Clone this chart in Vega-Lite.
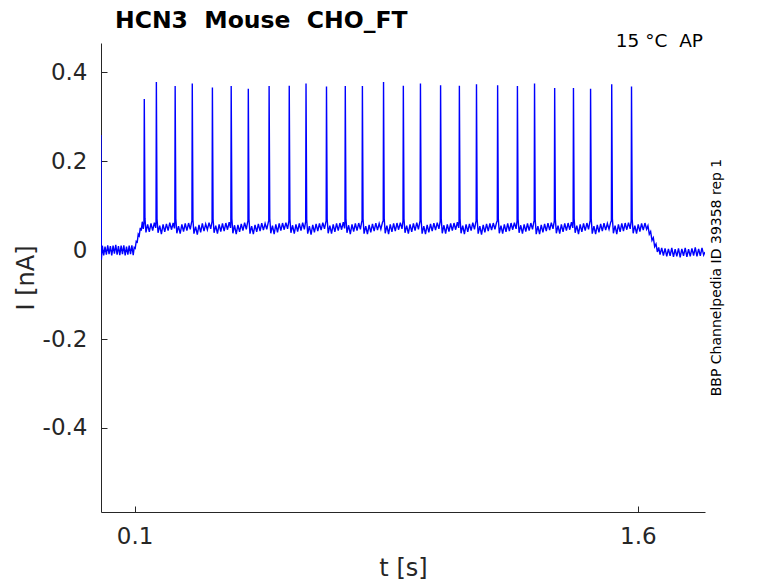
{
  "$schema": "https://vega.github.io/schema/vega-lite/v6.json",
  "width": 604,
  "height": 469,
  "autosize": {"type": "none"},
  "padding": {"left": 101, "top": 43, "right": 73, "bottom": 71},
  "background": "white",
  "config": {
    "view": {"stroke": null},
    "font": "DejaVu Sans",
    "axis": {
      "domainColor": "#262626", "tickColor": "#262626", "labelColor": "#262626", "titleColor": "#262626",
      "labelFont": "DejaVu Sans", "titleFont": "DejaVu Sans", "grid": false,
      "labelFontSize": 23, "titleFontSize": 24, "titleFontWeight": "normal",
      "tickSize": -6, "domainWidth": 1, "tickWidth": 1
    }
  },
  "title": {"text": "HCN3\u00a0\u00a0Mouse\u00a0\u00a0CHO_FT", "anchor": "start", "frame": "group", "dx": 14, "dy": 23, "fontSize": 23.5, "fontWeight": "bold", "color": "black", "font": "DejaVu Sans", "baseline": "alphabetic", "offset": 4},
  "layer": [
    {
      "data": {"values": [
        {"t":0,"i":0.259},{"t":0.001,"i":-0.022},{"t":0.004,"i":0.01},{"t":0.008,"i":-0.012},{"t":0.012,"i":0.008},{"t":0.016,"i":-0.01},{"t":0.02,"i":0.011},{"t":0.024,"i":-0.009},{"t":0.028,"i":0.009},{"t":0.032,"i":-0.012},{"t":0.036,"i":0.01},{"t":0.04,"i":-0.008},{"t":0.044,"i":0.012},{"t":0.048,"i":-0.01},{"t":0.052,"i":0.009},{"t":0.056,"i":-0.011},{"t":0.06,"i":0.01},{"t":0.064,"i":-0.009},{"t":0.068,"i":0.011},{"t":0.072,"i":-0.012},{"t":0.076,"i":0.008},{"t":0.08,"i":-0.01},{"t":0.084,"i":0.01},{"t":0.088,"i":-0.009},{"t":0.092,"i":0.011},{"t":0.096,"i":-0.011},{"t":0.099,"i":0.006},
        {"t":0.102,"i":0.004},{"t":0.105,"i":0.02},{"t":0.108,"i":0.018},{"t":0.111,"i":0.036},{"t":0.114,"i":0.032},{"t":0.117,"i":0.05},{"t":0.12,"i":0.044},{"t":0.123,"i":0.064},{"t":0.126,"i":0.048},{"t":0.128,"i":0.062},
        {"t":0.129,"i":0.34},{"t":0.131,"i":0.072},{"t":0.134,"i":0.04},{"t":0.139,"i":0.058},{"t":0.144,"i":0.041},{"t":0.149,"i":0.06},{"t":0.154,"i":0.044},{"t":0.159,"i":0.062},{"t":0.163,"i":0.05},{"t":0.164,"i":0.064},
        {"t":0.165,"i":0.378},{"t":0.167,"i":0.07},{"t":0.17,"i":0.039},{"t":0.175,"i":0.055},{"t":0.18,"i":0.036},{"t":0.185,"i":0.058},{"t":0.19,"i":0.041},{"t":0.195,"i":0.059},{"t":0.2,"i":0.044},{"t":0.205,"i":0.062},{"t":0.21,"i":0.046},{"t":0.215,"i":0.061},{"t":0.219,"i":0.049},{"t":0.22,"i":0.065},
        {"t":0.221,"i":0.369},{"t":0.223,"i":0.071},{"t":0.226,"i":0.038},{"t":0.231,"i":0.054},{"t":0.236,"i":0.037},{"t":0.241,"i":0.058},{"t":0.246,"i":0.042},{"t":0.251,"i":0.06},{"t":0.256,"i":0.044},{"t":0.261,"i":0.061},{"t":0.266,"i":0.047},{"t":0.27,"i":0.063},{"t":0.271,"i":0.066},
        {"t":0.272,"i":0.375},{"t":0.274,"i":0.069},{"t":0.277,"i":0.037},{"t":0.282,"i":0.053},{"t":0.287,"i":0.035},{"t":0.292,"i":0.057},{"t":0.297,"i":0.04},{"t":0.302,"i":0.06},{"t":0.307,"i":0.043},{"t":0.312,"i":0.059},{"t":0.317,"i":0.046},{"t":0.322,"i":0.062},{"t":0.327,"i":0.048},{"t":0.331,"i":0.065},
        {"t":0.332,"i":0.366},{"t":0.334,"i":0.07},{"t":0.337,"i":0.039},{"t":0.342,"i":0.055},{"t":0.347,"i":0.037},{"t":0.352,"i":0.058},{"t":0.357,"i":0.042},{"t":0.362,"i":0.06},{"t":0.367,"i":0.043},{"t":0.372,"i":0.061},{"t":0.377,"i":0.046},{"t":0.382,"i":0.063},{"t":0.386,"i":0.05},{"t":0.387,"i":0.066},
        {"t":0.388,"i":0.369},{"t":0.39,"i":0.071},{"t":0.393,"i":0.038},{"t":0.398,"i":0.056},{"t":0.403,"i":0.036},{"t":0.408,"i":0.057},{"t":0.413,"i":0.041},{"t":0.418,"i":0.059},{"t":0.423,"i":0.044},{"t":0.428,"i":0.062},{"t":0.433,"i":0.047},{"t":0.437,"i":0.063},{"t":0.438,"i":0.066},
        {"t":0.439,"i":0.363},{"t":0.441,"i":0.07},{"t":0.444,"i":0.037},{"t":0.449,"i":0.054},{"t":0.454,"i":0.036},{"t":0.459,"i":0.057},{"t":0.464,"i":0.041},{"t":0.469,"i":0.059},{"t":0.474,"i":0.043},{"t":0.479,"i":0.061},{"t":0.484,"i":0.045},{"t":0.489,"i":0.06},{"t":0.494,"i":0.047},{"t":0.499,"i":0.064},{"t":0.5,"i":0.066},
        {"t":0.501,"i":0.369},{"t":0.503,"i":0.071},{"t":0.506,"i":0.038},{"t":0.511,"i":0.055},{"t":0.516,"i":0.036},{"t":0.521,"i":0.058},{"t":0.526,"i":0.04},{"t":0.531,"i":0.06},{"t":0.536,"i":0.044},{"t":0.541,"i":0.061},{"t":0.546,"i":0.046},{"t":0.551,"i":0.062},{"t":0.556,"i":0.048},{"t":0.56,"i":0.066},
        {"t":0.561,"i":0.37},{"t":0.563,"i":0.07},{"t":0.566,"i":0.039},{"t":0.571,"i":0.056},{"t":0.576,"i":0.037},{"t":0.581,"i":0.058},{"t":0.586,"i":0.042},{"t":0.591,"i":0.06},{"t":0.596,"i":0.044},{"t":0.601,"i":0.062},{"t":0.606,"i":0.047},{"t":0.61,"i":0.065},
        {"t":0.611,"i":0.375},{"t":0.613,"i":0.069},{"t":0.616,"i":0.037},{"t":0.621,"i":0.054},{"t":0.626,"i":0.035},{"t":0.631,"i":0.057},{"t":0.636,"i":0.04},{"t":0.641,"i":0.059},{"t":0.646,"i":0.043},{"t":0.651,"i":0.06},{"t":0.656,"i":0.045},{"t":0.661,"i":0.062},{"t":0.666,"i":0.048},{"t":0.67,"i":0.063},{"t":0.671,"i":0.066},
        {"t":0.672,"i":0.368},{"t":0.674,"i":0.07},{"t":0.677,"i":0.038},{"t":0.682,"i":0.055},{"t":0.687,"i":0.037},{"t":0.692,"i":0.058},{"t":0.697,"i":0.041},{"t":0.702,"i":0.06},{"t":0.707,"i":0.044},{"t":0.712,"i":0.061},{"t":0.717,"i":0.046},{"t":0.722,"i":0.063},{"t":0.726,"i":0.049},{"t":0.727,"i":0.066},
        {"t":0.728,"i":0.369},{"t":0.73,"i":0.071},{"t":0.733,"i":0.039},{"t":0.738,"i":0.056},{"t":0.743,"i":0.036},{"t":0.748,"i":0.058},{"t":0.753,"i":0.042},{"t":0.758,"i":0.06},{"t":0.763,"i":0.044},{"t":0.768,"i":0.061},{"t":0.773,"i":0.047},{"t":0.777,"i":0.064},{"t":0.778,"i":0.066},
        {"t":0.779,"i":0.369},{"t":0.781,"i":0.07},{"t":0.784,"i":0.037},{"t":0.789,"i":0.054},{"t":0.794,"i":0.036},{"t":0.799,"i":0.057},{"t":0.804,"i":0.04},{"t":0.809,"i":0.059},{"t":0.814,"i":0.043},{"t":0.819,"i":0.061},{"t":0.824,"i":0.045},{"t":0.829,"i":0.06},{"t":0.834,"i":0.047},{"t":0.839,"i":0.063},{"t":0.841,"i":0.066},
        {"t":0.842,"i":0.378},{"t":0.844,"i":0.071},{"t":0.847,"i":0.038},{"t":0.852,"i":0.055},{"t":0.857,"i":0.036},{"t":0.862,"i":0.058},{"t":0.867,"i":0.041},{"t":0.872,"i":0.06},{"t":0.877,"i":0.043},{"t":0.882,"i":0.061},{"t":0.887,"i":0.046},{"t":0.892,"i":0.062},{"t":0.897,"i":0.048},{"t":0.9,"i":0.066},
        {"t":0.901,"i":0.37},{"t":0.903,"i":0.07},{"t":0.906,"i":0.039},{"t":0.911,"i":0.055},{"t":0.916,"i":0.037},{"t":0.921,"i":0.058},{"t":0.926,"i":0.041},{"t":0.931,"i":0.06},{"t":0.936,"i":0.044},{"t":0.941,"i":0.062},{"t":0.946,"i":0.047},{"t":0.95,"i":0.063},{"t":0.951,"i":0.066},
        {"t":0.952,"i":0.375},{"t":0.954,"i":0.069},{"t":0.957,"i":0.037},{"t":0.962,"i":0.054},{"t":0.967,"i":0.036},{"t":0.972,"i":0.057},{"t":0.977,"i":0.04},{"t":0.982,"i":0.059},{"t":0.987,"i":0.043},{"t":0.992,"i":0.061},{"t":0.997,"i":0.045},{"t":1.002,"i":0.062},{"t":1.007,"i":0.048},{"t":1.011,"i":0.066},
        {"t":1.012,"i":0.371},{"t":1.014,"i":0.07},{"t":1.017,"i":0.038},{"t":1.022,"i":0.056},{"t":1.027,"i":0.037},{"t":1.032,"i":0.058},{"t":1.037,"i":0.042},{"t":1.042,"i":0.06},{"t":1.047,"i":0.044},{"t":1.052,"i":0.061},{"t":1.057,"i":0.046},{"t":1.062,"i":0.063},{"t":1.066,"i":0.05},{"t":1.067,"i":0.066},
        {"t":1.068,"i":0.37},{"t":1.07,"i":0.071},{"t":1.073,"i":0.038},{"t":1.078,"i":0.055},{"t":1.083,"i":0.036},{"t":1.088,"i":0.058},{"t":1.093,"i":0.041},{"t":1.098,"i":0.059},{"t":1.103,"i":0.044},{"t":1.108,"i":0.062},{"t":1.113,"i":0.047},{"t":1.117,"i":0.063},{"t":1.118,"i":0.066},
        {"t":1.119,"i":0.373},{"t":1.121,"i":0.07},{"t":1.124,"i":0.037},{"t":1.129,"i":0.054},{"t":1.134,"i":0.035},{"t":1.139,"i":0.057},{"t":1.144,"i":0.04},{"t":1.149,"i":0.059},{"t":1.154,"i":0.043},{"t":1.159,"i":0.06},{"t":1.164,"i":0.045},{"t":1.169,"i":0.061},{"t":1.174,"i":0.047},{"t":1.179,"i":0.063},{"t":1.181,"i":0.066},
        {"t":1.182,"i":0.371},{"t":1.184,"i":0.071},{"t":1.187,"i":0.038},{"t":1.192,"i":0.055},{"t":1.197,"i":0.037},{"t":1.202,"i":0.058},{"t":1.207,"i":0.041},{"t":1.212,"i":0.06},{"t":1.217,"i":0.043},{"t":1.222,"i":0.061},{"t":1.227,"i":0.046},{"t":1.232,"i":0.062},{"t":1.237,"i":0.048},{"t":1.24,"i":0.066},
        {"t":1.241,"i":0.369},{"t":1.243,"i":0.07},{"t":1.246,"i":0.039},{"t":1.251,"i":0.056},{"t":1.256,"i":0.037},{"t":1.261,"i":0.058},{"t":1.266,"i":0.042},{"t":1.271,"i":0.06},{"t":1.276,"i":0.044},{"t":1.281,"i":0.061},{"t":1.286,"i":0.047},{"t":1.29,"i":0.064},{"t":1.291,"i":0.066},
        {"t":1.292,"i":0.375},{"t":1.294,"i":0.069},{"t":1.297,"i":0.036},{"t":1.302,"i":0.054},{"t":1.307,"i":0.036},{"t":1.312,"i":0.057},{"t":1.317,"i":0.04},{"t":1.322,"i":0.059},{"t":1.327,"i":0.043},{"t":1.332,"i":0.061},{"t":1.337,"i":0.045},{"t":1.342,"i":0.062},{"t":1.347,"i":0.048},{"t":1.351,"i":0.066},
        {"t":1.352,"i":0.365},{"t":1.354,"i":0.07},{"t":1.357,"i":0.038},{"t":1.362,"i":0.055},{"t":1.367,"i":0.037},{"t":1.372,"i":0.058},{"t":1.377,"i":0.041},{"t":1.382,"i":0.06},{"t":1.387,"i":0.044},{"t":1.392,"i":0.061},{"t":1.397,"i":0.046},{"t":1.402,"i":0.063},{"t":1.406,"i":0.05},{"t":1.407,"i":0.066},
        {"t":1.408,"i":0.365},{"t":1.41,"i":0.071},{"t":1.413,"i":0.039},{"t":1.418,"i":0.055},{"t":1.423,"i":0.036},{"t":1.428,"i":0.058},{"t":1.433,"i":0.041},{"t":1.438,"i":0.06},{"t":1.443,"i":0.044},{"t":1.448,"i":0.061},{"t":1.453,"i":0.047},{"t":1.457,"i":0.064},{"t":1.458,"i":0.066},
        {"t":1.459,"i":0.363},{"t":1.461,"i":0.07},{"t":1.464,"i":0.037},{"t":1.469,"i":0.054},{"t":1.474,"i":0.036},{"t":1.479,"i":0.057},{"t":1.484,"i":0.04},{"t":1.489,"i":0.059},{"t":1.494,"i":0.043},{"t":1.499,"i":0.061},{"t":1.504,"i":0.045},{"t":1.509,"i":0.06},{"t":1.514,"i":0.047},{"t":1.519,"i":0.063},{"t":1.521,"i":0.066},
        {"t":1.522,"i":0.373},{"t":1.524,"i":0.071},{"t":1.527,"i":0.038},{"t":1.532,"i":0.055},{"t":1.537,"i":0.036},{"t":1.542,"i":0.058},{"t":1.547,"i":0.041},{"t":1.552,"i":0.06},{"t":1.557,"i":0.043},{"t":1.562,"i":0.061},{"t":1.567,"i":0.046},{"t":1.572,"i":0.062},{"t":1.577,"i":0.048},{"t":1.58,"i":0.066},
        {"t":1.581,"i":0.368},{"t":1.583,"i":0.07},{"t":1.586,"i":0.038},{"t":1.591,"i":0.055},{"t":1.596,"i":0.037},{"t":1.601,"i":0.058},{"t":1.606,"i":0.042},{"t":1.611,"i":0.06},{"t":1.616,"i":0.045},{"t":1.621,"i":0.061},{"t":1.626,"i":0.047},{"t":1.63,"i":0.055},
        {"t":1.634,"i":0.036},{"t":1.638,"i":0.042},{"t":1.642,"i":0.022},{"t":1.646,"i":0.028},{"t":1.65,"i":0.008},{"t":1.654,"i":0.014},{"t":1.658,"i":-0.004},{"t":1.662,"i":0.006},{"t":1.666,"i":-0.01},{"t":1.671,"i":0.005},{"t":1.676,"i":-0.012},{"t":1.681,"i":0.004},{"t":1.686,"i":-0.014},{"t":1.691,"i":0.003},{"t":1.696,"i":-0.013},{"t":1.701,"i":0.005},{"t":1.706,"i":-0.015},{"t":1.711,"i":0.002},{"t":1.716,"i":-0.014},{"t":1.721,"i":0.004},{"t":1.726,"i":-0.016},{"t":1.731,"i":0.003},{"t":1.736,"i":-0.013},{"t":1.741,"i":0.005},{"t":1.746,"i":-0.015},{"t":1.751,"i":0.002},{"t":1.756,"i":-0.014},{"t":1.761,"i":0.004},{"t":1.766,"i":-0.012},{"t":1.771,"i":0.006},{"t":1.776,"i":-0.014},{"t":1.781,"i":0.003},{"t":1.786,"i":-0.013},{"t":1.791,"i":0.005},{"t":1.796,"i":-0.011},{"t":1.8,"i":-0.004}
      ]},
      "mark": {"type": "line", "color": "#0000ff", "strokeWidth": 1.4, "clip": true},
      "encoding": {
        "x": {"field": "t", "type": "quantitative", "scale": {"domain": [0, 1.8], "nice": false, "zero": false},
              "axis": {"values": [0.1, 1.6], "format": ".1f", "title": "t [s]", "labelPadding": 19, "titlePadding": 8}},
        "y": {"field": "i", "type": "quantitative", "scale": {"domain": [-0.589, 0.466], "nice": false, "zero": false},
              "axis": {"values": [-0.4, -0.2, 0, 0.2, 0.4], "labelExpr": "datum.value == 0 ? '0' : (datum.value < 0 ? '-' : '') + format(abs(datum.value), '.1f')", "title": "I [nA]", "labelPadding": 20, "titlePadding": 4}}
      }
    },
    {
      "data": {"values": [{}]},
      "mark": {"type": "text", "align": "right", "baseline": "middle", "dx": -2, "dy": -2, "fontSize": 18.5, "color": "black", "font": "DejaVu Sans"},
      "encoding": {"x": {"datum": 1.8}, "y": {"datum": 0.466}, "text": {"value": "15 °C\u00a0\u00a0AP"}}
    },
    {
      "data": {"values": [{}]},
      "mark": {"type": "text", "align": "center", "baseline": "middle", "angle": 270, "dy": 12, "fontSize": 14, "color": "black", "font": "DejaVu Sans"},
      "encoding": {"x": {"datum": 1.8}, "y": {"datum": -0.0615}, "text": {"value": "BBP Channelpedia ID 39358 rep 1"}}
    }
  ]
}
